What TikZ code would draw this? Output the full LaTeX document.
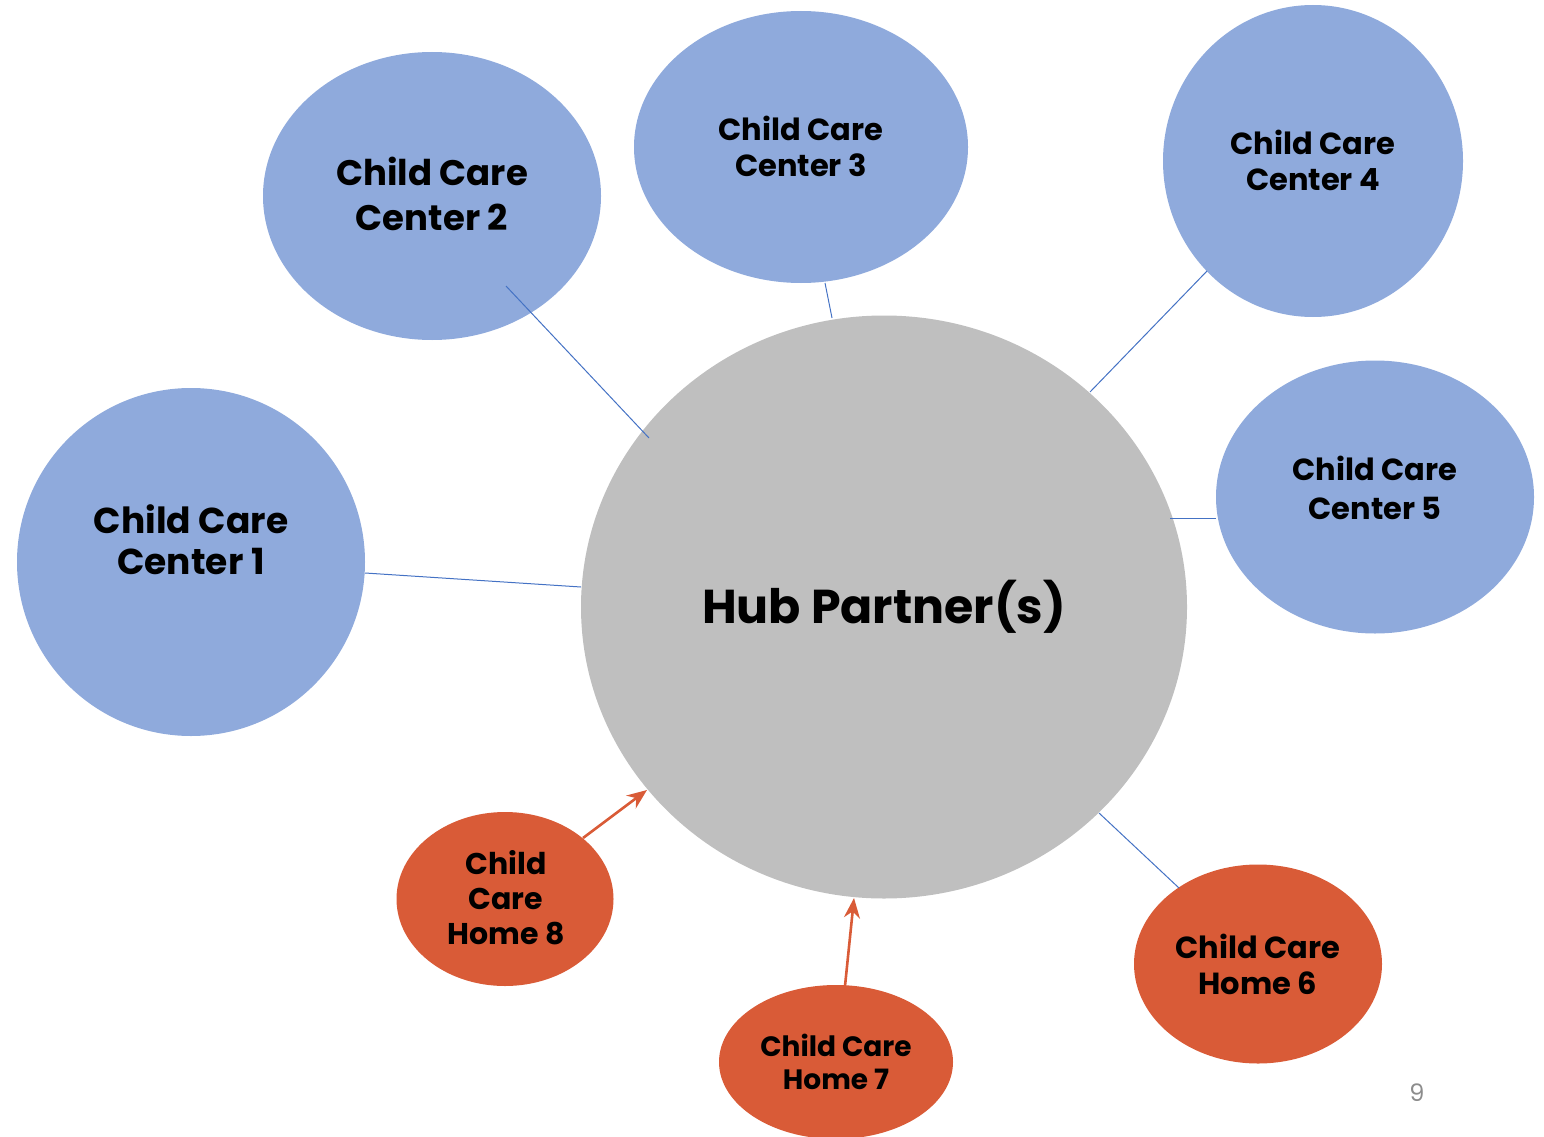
\documentclass[tikz,border=0pt]{standalone}
\usepackage{fontspec}
\setmainfont{Poppins}
\usetikzlibrary{shapes.geometric,arrows.meta}
\definecolor{cblue}{HTML}{8FAADC}
\definecolor{hgray}{HTML}{BFBFBF}
\definecolor{horange}{HTML}{D95B37}
\definecolor{lblue}{HTML}{4472C4}
\definecolor{pgray}{HTML}{8C8C8C}
\tikzset{
  bub/.style={ellipse, draw=none, inner sep=0pt},
  center/.style={bub, fill=cblue},
  home/.style={bub, fill=horange},
  txt/.style={align=center, inner sep=0pt, text=black, font=\bfseries},
  link/.style={draw=lblue, line width=1pt},
  arr/.style={draw=horange, line width=2.6pt, -{Stealth[length=20pt,width=16pt]}},
}
\begin{document}
\begin{tikzpicture}[x=1pt,y=-1pt]
\useasboundingbox (0,0) rectangle (1544,1137);
\clip (0,0) rectangle (1544,1137);
% bubbles
\node[bub, fill=hgray, minimum width=606pt, minimum height=583pt] (hub) at (884,607) {};
\node[center, minimum width=348pt, minimum height=348pt] (c1) at (191,562) {};
\node[center, minimum width=338pt, minimum height=288pt] (c2) at (432,196) {};
\node[center, minimum width=334pt, minimum height=272pt] (c3) at (801,147) {};
\node[center, minimum width=300pt, minimum height=312pt] (c4) at (1313,161) {};
\node[center, minimum width=318pt, minimum height=273pt] (c5) at (1375,497) {};
\node[home, minimum width=248pt, minimum height=199pt] (h6) at (1258,964) {};
\node[home, minimum width=234pt, minimum height=154pt] (h7) at (836,1062) {};
\node[home, minimum width=217pt, minimum height=174pt] (h8) at (505,899) {};
% texts
\node[txt, font=\bfseries\fontsize{47.5}{58}\selectfont] (hubt) at (884,607) {Hub Partner(s)};
\node[txt, font=\bfseries\fontsize{36}{41}\selectfont] (c1t) at (191,540) {Child Care\\Center 1};
\node[txt, font=\bfseries\fontsize{35.5}{45}\selectfont] (c2t) at (432,194) {Child Care\\Center 2};
\node[txt, font=\bfseries\fontsize{30.5}{36}\selectfont] (c3t) at (801,146) {Child Care\\Center 3};
\node[txt, font=\bfseries\fontsize{30.5}{36}\selectfont] (c4t) at (1313,160) {Child Care\\Center 4};
\node[txt, font=\bfseries\fontsize{30.5}{39}\selectfont] (c5t) at (1375,488) {Child Care\\Center 5};
\node[txt, font=\bfseries\fontsize{30.5}{36}\selectfont] (h6t) at (1258,964) {Child Care\\Home 6};
\node[txt, font=\bfseries\fontsize{28}{33}\selectfont] (h7t) at (836,1062) {Child Care\\Home 7};
\node[txt, font=\bfseries\fontsize{30}{35}\selectfont] (h8t) at (506,898) {Child\\Care\\Home 8};
\node[text=pgray, font=\fontsize{24}{28}\selectfont, inner sep=0pt] (pg) at (1417,1093) {9};
% connector end points
\coordinate (a1) at (365,573); \coordinate (b1) at (581,587);
\coordinate (a2) at (506,286); \coordinate (b2) at (649,438);
\coordinate (a3) at (825,283); \coordinate (b3) at (832,318);
\coordinate (a4) at (1207,271); \coordinate (b4) at (1090,392);
\coordinate (a5) at (1216,518); \coordinate (b5) at (1170,518);
\coordinate (a6) at (1179,888); \coordinate (b6) at (1099,813);
\coordinate (a7) at (845,986); \coordinate (b7) at (854,898);
\coordinate (a8) at (583,838); \coordinate (b8) at (647,790);
\draw[link] (a1) -- (b1);
\draw[link] (a2) -- (b2);
\draw[link] (a3) -- (b3);
\draw[link] (a4) -- (b4);
\draw[link] (a5) -- (b5);
\draw[link] (a6) -- (b6);
\draw[arr] (a7) -- (b7);
\draw[arr] (a8) -- (b8);
\end{tikzpicture}
\end{document}
